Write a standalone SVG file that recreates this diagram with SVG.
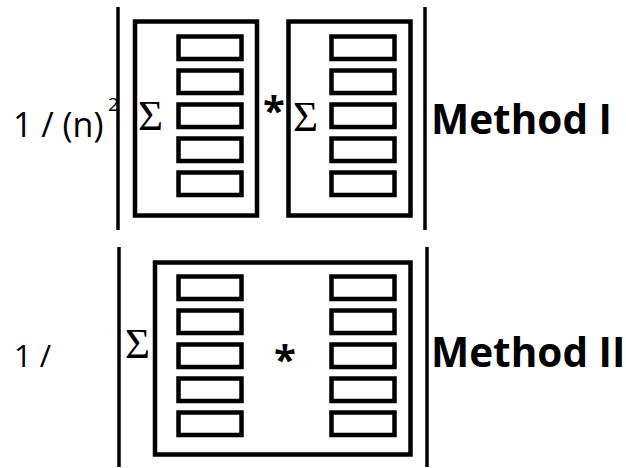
<svg xmlns="http://www.w3.org/2000/svg" width="626" height="468" viewBox="0 0 626 468">
<defs>
<style>
.bar{stroke:#000;stroke-width:3.5;fill:none}
.box{stroke:#000;stroke-width:4.5;fill:none}
.cell{stroke:#000;stroke-width:4.5;fill:none}
.lbl{font-family:"Open Sans","Liberation Sans",sans-serif;font-size:31px;fill:#000}
.lbl1{font-size:34px}
.sup{font-family:"Open Sans","Liberation Sans",sans-serif;font-size:19px;fill:#000}
.sig{font-family:"Liberation Serif","DejaVu Serif",serif;font-size:43px;fill:#000}
.ast{font-family:"Open Sans","Liberation Sans",sans-serif;font-size:40px;font-weight:bold;fill:#000}
.meth{font-family:"Open Sans","Liberation Sans",sans-serif;font-size:40.5px;font-weight:bold;fill:#000}
</style>
<g id="col">
<rect class="cell" x="0" y="0" width="63" height="22.5"/>
<rect class="cell" x="0" y="34" width="63" height="22.5"/>
<rect class="cell" x="0" y="68" width="63" height="22.5"/>
<rect class="cell" x="0" y="102" width="63" height="22.5"/>
<rect class="cell" x="0" y="136" width="63" height="22.5"/>
</g>
</defs>
<g id="method1">
<text class="lbl lbl1" x="13" y="137">1 / (n)</text>
<text class="sup" x="108" y="111">2</text>
<line class="bar" x1="118" y1="7" x2="118" y2="230"/>
<line class="bar" x1="425" y1="7" x2="425" y2="230"/>
<g id="m1-left">
<rect class="box" x="135" y="21.5" width="122" height="194"/>
<text class="sig" x="138" y="130">Σ</text>
<use href="#col" x="178.5" y="36.5"/>
</g>
<text class="ast" x="263" y="125">*</text>
<g id="m1-right">
<rect class="box" x="288.5" y="21.5" width="122" height="194"/>
<text class="sig" x="293" y="131">Σ</text>
<use href="#col" x="331.5" y="36.5"/>
</g>
<text class="meth" x="431" y="134">Method I</text>
</g>
<g id="method2">
<text class="lbl" x="14" y="367">1 /</text>
<line class="bar" x1="119" y1="247" x2="119" y2="467"/>
<line class="bar" x1="427" y1="247" x2="427" y2="467"/>
<text class="sig" x="125" y="358">Σ</text>
<g id="m2-box">
<rect class="box" x="155" y="262.5" width="255.5" height="192"/>
<use href="#col" x="178.5" y="276.5"/>
<use href="#col" x="331.5" y="276.5"/>
<text class="ast" x="274" y="374">*</text>
</g>
<text class="meth" x="431" y="367">Method II</text>
</g>
</svg>
